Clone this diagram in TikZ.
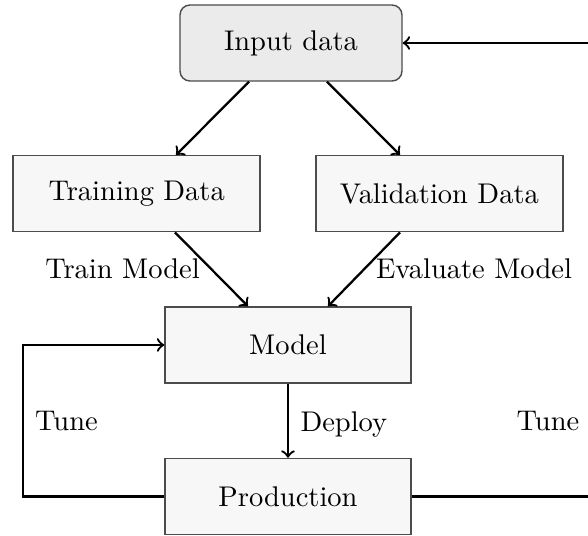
\documentclass[tikz,border=0pt]{standalone}
\usetikzlibrary{calc}
\begin{document}
\begin{tikzpicture}[x=0.351pt,y=-0.351pt,
  box/.style={draw=black!70, line width=0.5pt, fill=black!3, inner sep=0pt,
    minimum width=#1*0.351pt, minimum height=76*0.351pt},
  startbox/.style={box=#1, fill=black!8, rounded corners=3.5pt},
  flow/.style={->, line width=0.8pt},
  lbl/.style={inner sep=0pt, anchor=base}]
\useasboundingbox (0,0) rectangle (588,536);

% stages of the pipeline
\node[startbox=222] (input) at (291,43) {Input data};
\node[box=247] (train) at (136.7,193.7) {Training Data};
\node[box=247] (valid) at (439.3,193.7) {Validation Data};
\node[box=246] (model) at (288,345) {Model};
\node[box=246] (prod) at (288,496.5) {Production};

% data split
\draw[flow] ($(input.south)+(-42,0)$) -- ($(train.north)+(39.3,0)$);
\draw[flow] ($(input.south)+(36,0)$) -- ($(valid.north)+(-39.3,0)$);

% training and evaluation
\draw[flow] ($(train.south)+(38.3,0)$) -- ($(model.north)+(-40,0)$);
\draw[flow] ($(valid.south)+(-39.3,0)$) -- ($(model.north)+(40,0)$);
\node[lbl] (trainlbl) at (122.5,279) {Train Model};
\node[lbl] (evallbl) at (474,279) {Evaluate Model};

% deployment
\draw[flow] (model.south) -- (prod.north);
\node[lbl, anchor=base west] (deploylbl) at (300,432) {Deploy};

% feedback loops
\coordinate (lloop) at (23,420);
\coordinate (rloop) at (640,270);
\draw[flow] (prod.west) -| (lloop) |- (model.west);
\draw[flow] (prod.east) -| (rloop) |- (input.east);
\node[lbl] (ltune) at (66.5,431) {Tune};
\node[lbl] (rtune) at (548,431) {Tune};
\end{tikzpicture}
\end{document}
